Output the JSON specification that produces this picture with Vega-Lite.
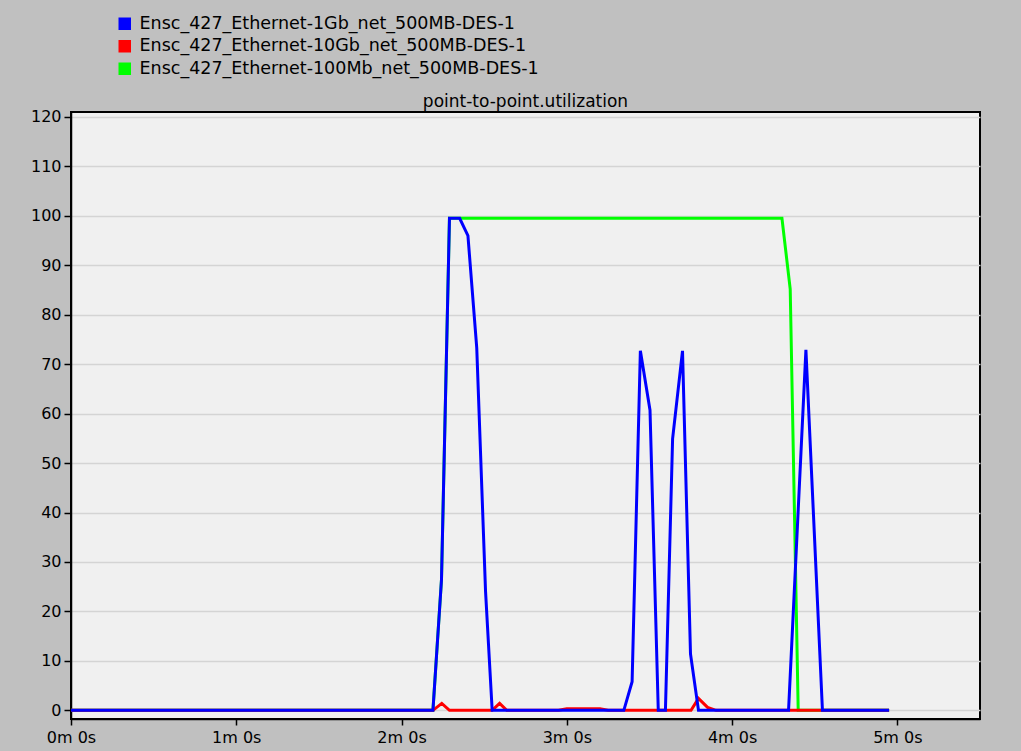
{
  "$schema": "https://vega.github.io/schema/vega-lite/v6.json",
  "width": 909,
  "height": 607,
  "autosize": {"type": "none"},
  "padding": {"left": 71, "top": 112, "right": 41, "bottom": 32},
  "background": "#C0C0C0",
  "title": {"text": "point-to-point.utilization", "font": "DejaVu Sans", "fontSize": 17, "fontWeight": "normal", "color": "#000000", "anchor": "middle", "baseline": "alphabetic", "offset": 4, "dy": 113},
  "data": {"values": [
    {"t": 0, "u": 0, "series": "Ensc_427_Ethernet-1Gb_net_500MB-DES-1"},
    {"t": 131.4, "u": 0, "series": "Ensc_427_Ethernet-1Gb_net_500MB-DES-1"},
    {"t": 134.5, "u": 26.4, "series": "Ensc_427_Ethernet-1Gb_net_500MB-DES-1"},
    {"t": 137.4, "u": 99.5, "series": "Ensc_427_Ethernet-1Gb_net_500MB-DES-1"},
    {"t": 141.1, "u": 99.5, "series": "Ensc_427_Ethernet-1Gb_net_500MB-DES-1"},
    {"t": 144.1, "u": 96.0, "series": "Ensc_427_Ethernet-1Gb_net_500MB-DES-1"},
    {"t": 147.3, "u": 73.3, "series": "Ensc_427_Ethernet-1Gb_net_500MB-DES-1"},
    {"t": 150.5, "u": 24, "series": "Ensc_427_Ethernet-1Gb_net_500MB-DES-1"},
    {"t": 152.9, "u": 0, "series": "Ensc_427_Ethernet-1Gb_net_500MB-DES-1"},
    {"t": 200.7, "u": 0, "series": "Ensc_427_Ethernet-1Gb_net_500MB-DES-1"},
    {"t": 203.7, "u": 5.8, "series": "Ensc_427_Ethernet-1Gb_net_500MB-DES-1"},
    {"t": 206.7, "u": 72.7, "series": "Ensc_427_Ethernet-1Gb_net_500MB-DES-1"},
    {"t": 210.2, "u": 60.7, "series": "Ensc_427_Ethernet-1Gb_net_500MB-DES-1"},
    {"t": 213.2, "u": 0, "series": "Ensc_427_Ethernet-1Gb_net_500MB-DES-1"},
    {"t": 215.8, "u": 0, "series": "Ensc_427_Ethernet-1Gb_net_500MB-DES-1"},
    {"t": 218.4, "u": 54.9, "series": "Ensc_427_Ethernet-1Gb_net_500MB-DES-1"},
    {"t": 222.0, "u": 72.7, "series": "Ensc_427_Ethernet-1Gb_net_500MB-DES-1"},
    {"t": 224.9, "u": 11.4, "series": "Ensc_427_Ethernet-1Gb_net_500MB-DES-1"},
    {"t": 227.8, "u": 0, "series": "Ensc_427_Ethernet-1Gb_net_500MB-DES-1"},
    {"t": 260.5, "u": 0, "series": "Ensc_427_Ethernet-1Gb_net_500MB-DES-1"},
    {"t": 266.8, "u": 72.9, "series": "Ensc_427_Ethernet-1Gb_net_500MB-DES-1"},
    {"t": 272.8, "u": 0, "series": "Ensc_427_Ethernet-1Gb_net_500MB-DES-1"},
    {"t": 297, "u": 0, "series": "Ensc_427_Ethernet-1Gb_net_500MB-DES-1"},
    {"t": 0, "u": 0, "series": "Ensc_427_Ethernet-10Gb_net_500MB-DES-1"},
    {"t": 131.4, "u": 0, "series": "Ensc_427_Ethernet-10Gb_net_500MB-DES-1"},
    {"t": 134.6, "u": 1.4, "series": "Ensc_427_Ethernet-10Gb_net_500MB-DES-1"},
    {"t": 137.4, "u": 0, "series": "Ensc_427_Ethernet-10Gb_net_500MB-DES-1"},
    {"t": 152.9, "u": 0, "series": "Ensc_427_Ethernet-10Gb_net_500MB-DES-1"},
    {"t": 155.6, "u": 1.4, "series": "Ensc_427_Ethernet-10Gb_net_500MB-DES-1"},
    {"t": 158.2, "u": 0, "series": "Ensc_427_Ethernet-10Gb_net_500MB-DES-1"},
    {"t": 177, "u": 0, "series": "Ensc_427_Ethernet-10Gb_net_500MB-DES-1"},
    {"t": 180, "u": 0.3, "series": "Ensc_427_Ethernet-10Gb_net_500MB-DES-1"},
    {"t": 186, "u": 0.3, "series": "Ensc_427_Ethernet-10Gb_net_500MB-DES-1"},
    {"t": 192, "u": 0.3, "series": "Ensc_427_Ethernet-10Gb_net_500MB-DES-1"},
    {"t": 195, "u": 0, "series": "Ensc_427_Ethernet-10Gb_net_500MB-DES-1"},
    {"t": 225.1, "u": 0, "series": "Ensc_427_Ethernet-10Gb_net_500MB-DES-1"},
    {"t": 227.8, "u": 2.4, "series": "Ensc_427_Ethernet-10Gb_net_500MB-DES-1"},
    {"t": 231.1, "u": 0.6, "series": "Ensc_427_Ethernet-10Gb_net_500MB-DES-1"},
    {"t": 234.2, "u": 0, "series": "Ensc_427_Ethernet-10Gb_net_500MB-DES-1"},
    {"t": 297, "u": 0, "series": "Ensc_427_Ethernet-10Gb_net_500MB-DES-1"},
    {"t": 0, "u": 0, "series": "Ensc_427_Ethernet-100Mb_net_500MB-DES-1"},
    {"t": 131.4, "u": 0, "series": "Ensc_427_Ethernet-100Mb_net_500MB-DES-1"},
    {"t": 134.5, "u": 26.4, "series": "Ensc_427_Ethernet-100Mb_net_500MB-DES-1"},
    {"t": 137.4, "u": 99.5, "series": "Ensc_427_Ethernet-100Mb_net_500MB-DES-1"},
    {"t": 258.1, "u": 99.5, "series": "Ensc_427_Ethernet-100Mb_net_500MB-DES-1"},
    {"t": 261.1, "u": 85.2, "series": "Ensc_427_Ethernet-100Mb_net_500MB-DES-1"},
    {"t": 264.0, "u": 0, "series": "Ensc_427_Ethernet-100Mb_net_500MB-DES-1"},
    {"t": 297, "u": 0, "series": "Ensc_427_Ethernet-100Mb_net_500MB-DES-1"}
  ]},
  "encoding": {
    "x": {"field": "t", "type": "quantitative", "scale": {"domain": [0, 330], "nice": false, "zero": false},
      "axis": {"values": [0, 60, 120, 180, 240, 300], "labelExpr": "floor(datum.value/60) + 'm ' + (datum.value%60) + 's'", "title": null, "grid": false, "tickSize": 6, "labelPadding": 4}},
    "y": {"field": "u", "type": "quantitative", "scale": {"domain": [-1.75, 121], "nice": false, "zero": false},
      "axis": {"values": [0, 10, 20, 30, 40, 50, 60, 70, 80, 90, 100, 110, 120], "title": null, "grid": true, "tickSize": 7, "labelPadding": 3}}
  },
  "layer": [
    {"transform": [{"filter": "false"}],
     "mark": {"type": "point", "shape": "square", "filled": true, "stroke": "#000000", "strokeWidth": 2, "opacity": 1},
     "encoding": {"fill": {"field": "series", "type": "nominal",
      "scale": {"domain": ["Ensc_427_Ethernet-1Gb_net_500MB-DES-1", "Ensc_427_Ethernet-10Gb_net_500MB-DES-1", "Ensc_427_Ethernet-100Mb_net_500MB-DES-1"], "range": ["#0000FF", "#FF0000", "#00FF00"]},
      "legend": {"orient": "none", "legendX": 45, "legendY": -97, "title": null, "symbolType": "square", "symbolSize": 110, "symbolStrokeWidth": 2, "symbolStrokeColor": "#000000", "symbolOpacity": 1, "labelOffset": 6, "labelFontSize": 17.5, "rowPadding": 3.5, "padding": 0,
        "encode": {"symbols": {"update": {"stroke": {"value": "#000000"}, "strokeWidth": {"value": 2}}}}}}}},
    {"transform": [{"filter": "datum.series === 'Ensc_427_Ethernet-100Mb_net_500MB-DES-1'"}], "mark": {"type": "line", "strokeWidth": 3},
     "encoding": {"stroke": {"field": "series", "type": "nominal", "scale": {"domain": ["Ensc_427_Ethernet-1Gb_net_500MB-DES-1", "Ensc_427_Ethernet-10Gb_net_500MB-DES-1", "Ensc_427_Ethernet-100Mb_net_500MB-DES-1"], "range": ["#0000FF", "#FF0000", "#00FF00"]}, "legend": null}}},
    {"transform": [{"filter": "datum.series === 'Ensc_427_Ethernet-10Gb_net_500MB-DES-1'"}], "mark": {"type": "line", "strokeWidth": 3},
     "encoding": {"stroke": {"field": "series", "type": "nominal", "scale": {"domain": ["Ensc_427_Ethernet-1Gb_net_500MB-DES-1", "Ensc_427_Ethernet-10Gb_net_500MB-DES-1", "Ensc_427_Ethernet-100Mb_net_500MB-DES-1"], "range": ["#0000FF", "#FF0000", "#00FF00"]}, "legend": null}}},
    {"transform": [{"filter": "datum.series === 'Ensc_427_Ethernet-1Gb_net_500MB-DES-1'"}], "mark": {"type": "line", "strokeWidth": 3},
     "encoding": {"stroke": {"field": "series", "type": "nominal", "scale": {"domain": ["Ensc_427_Ethernet-1Gb_net_500MB-DES-1", "Ensc_427_Ethernet-10Gb_net_500MB-DES-1", "Ensc_427_Ethernet-100Mb_net_500MB-DES-1"], "range": ["#0000FF", "#FF0000", "#00FF00"]}, "legend": null}}}
  ],
  "config": {
    "font": "DejaVu Sans",
    "view": {"fill": "#F0F0F0", "stroke": "#000000", "strokeWidth": 2},
    "axis": {"labelFont": "DejaVu Sans", "labelFontSize": 16, "labelColor": "#000000", "domainColor": "#000000", "domainWidth": 1.5, "tickColor": "#000000", "tickWidth": 1.5, "gridColor": "#D4D4D4", "gridWidth": 1.5, "labelFlush": false, "labelOverlap": false},
    "legend": {"labelFont": "DejaVu Sans", "labelColor": "#000000", "labelLimit": 0}
  }
}
